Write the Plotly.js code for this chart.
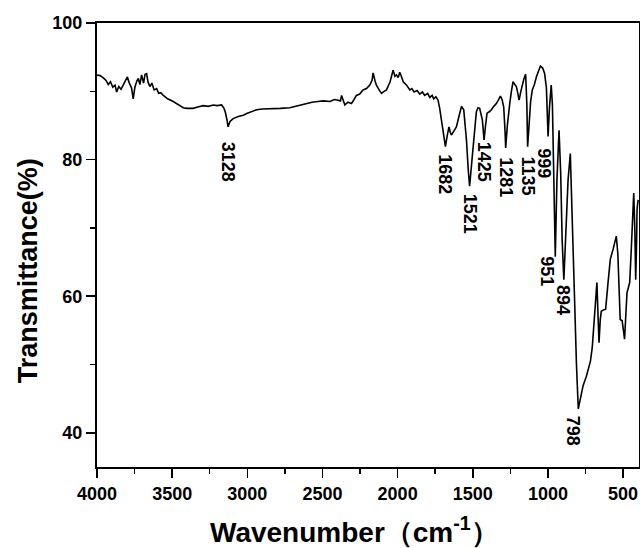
<!DOCTYPE html>
<html>
<head>
<meta charset="utf-8">
<script src="https://cdn.plot.ly/plotly-3.0.1.min.js"></script>
<style>html,body{margin:0;padding:0;background:#fff;}#chart{width:640px;height:548px;}</style>
</head>
<body>
<div id="chart"></div>
<script>
const wavenumber = [4000,3980,3960,3940,3925,3910,3895,3880,3869,3855,3840,3825,3810,3798,3785,3770,3759,3748,3735,3725,3715,3703,3690,3680,3670,3660,3648,3635,3620,3603,3590,3575,3559,3530,3493,3460,3426,3400,3360,3330,3293,3260,3227,3200,3171,3155,3147,3135,3128,3115,3094,3060,3027,3000,2970,2938,2900,2860,2828,2780,2717,2680,2640,2606,2570,2530,2495,2450,2420,2396,2380,2373,2362,2351,2330,2307,2290,2274,2252,2230,2207,2185,2170,2163,2150,2141,2120,2107,2090,2074,2050,2030,2018,2008,1996,1986,1975,1963,1940,1919,1905,1890,1870,1853,1835,1820,1800,1786,1770,1760,1745,1731,1720,1710,1698,1690,1682,1670,1658,1650,1642,1625,1609,1590,1575,1560,1550,1542,1530,1521,1510,1498,1485,1476,1465,1454,1436,1425,1415,1405,1390,1376,1360,1343,1330,1316,1305,1294,1285,1281,1270,1262,1254,1243,1232,1220,1210,1200,1192,1180,1170,1160,1148,1140,1135,1126,1115,1104,1090,1077,1065,1050,1035,1022,1010,1003,999,990,978,970,960,951,940,926,915,905,894,880,866,851,840,822,810,798,785,766,744,717,705,696,680,674,668,660,652,645,630,616,600,585,565,550,545,535,528,519,506,498,490,474,456,445,438,429,422,416,410,407,400];
const transmittance = [92.4,92.3,92.0,91.6,91.0,91.4,90.6,90.9,89.9,90.7,90.3,90.9,91.5,92.1,91.2,90.5,88.9,90.6,91.5,91.9,91.0,92.4,91.2,92.5,92.6,91.3,90.7,91.2,90.2,90.4,89.7,89.8,89.4,88.9,88.5,88.0,87.6,87.5,87.5,87.7,87.9,87.8,88.0,87.9,88.0,87.5,87.0,85.8,84.8,85.6,86.0,86.3,86.5,86.8,87.1,87.3,87.4,87.4,87.5,87.5,87.6,87.8,88.0,88.2,88.4,88.5,88.6,88.5,88.8,88.7,88.6,89.4,88.6,88.0,88.4,88.2,88.8,89.4,89.6,90.2,90.4,90.9,91.6,92.7,91.5,90.9,90.1,89.7,90.0,90.2,91.4,93.1,92.2,92.4,92.0,92.8,92.2,91.4,90.9,90.2,90.4,89.9,90.1,89.6,89.9,89.4,89.7,89.1,89.4,88.9,89.2,88.7,87.5,86.0,84.3,83.2,81.9,83.5,84.8,84.0,83.6,84.2,84.8,86.5,87.8,87.3,85.0,82.9,78.5,76.1,78.8,81.9,85.0,87.0,87.6,87.5,85.8,82.9,85.0,86.8,87.0,87.3,87.8,88.2,88.7,89.3,88.8,87.7,84.0,81.7,85.0,87.0,88.2,90.0,91.4,91.0,90.7,89.7,88.7,90.0,91.2,91.8,92.5,88.0,81.9,85.5,88.5,90.2,91.0,92.1,92.8,93.7,93.4,92.6,90.5,87.0,83.4,87.5,90.9,88.0,78.0,65.8,77.0,84.3,78.0,68.0,62.4,70.0,77.0,80.9,72.0,57.1,50.0,43.5,45.0,46.9,48.3,50.5,52.5,54.9,60.0,62.0,58.0,53.2,56.5,57.8,58.0,58.1,62.0,65.4,67.0,68.8,68.8,66.3,61.0,56.6,56.4,55.0,53.7,60.5,62.0,67.0,71.7,75.1,70.0,62.4,68.0,72.7,74.1];
const peakLabels = [3128,1682,1521,1425,1281,1135,999,951,894,798];
const labelShift = [[0,-13],[0,-6],[0,-5],[0,0],[0,-7],[0,-8],[-4,-10],[-8,2],[-1,-3],[-5,-5]];

const annotations = peakLabels.map((p, i) => {
  const idx = wavenumber.indexOf(p);
  return {
    x: p, y: transmittance[idx], xref: 'x', yref: 'y',
    text: String(p), showarrow: false, textangle: 90,
    xanchor: 'center', yanchor: 'top',
    xshift: labelShift[i][0], yshift: labelShift[i][1],
    font: {family: 'Liberation Sans, Arial, sans-serif', size: 18, color: '#000', weight: 'bold'}
  };
});
annotations.push({
  xref: 'paper', yref: 'paper', x: 0.476, y: -0.141, xanchor: 'center', yanchor: 'middle',
  showarrow: false, text: 'Wavenumber（cm<sup>-1</sup>）',
  font: {family: 'Liberation Sans, Arial, sans-serif', size: 28, color: '#000', weight: 'bold'}
});
annotations.push({
  xref: 'paper', yref: 'paper', x: -0.127, y: 0.441, xanchor: 'center', yanchor: 'middle',
  showarrow: false, textangle: -90, text: 'Transmittance(%)',
  font: {family: 'Liberation Sans, Arial, sans-serif', size: 27, color: '#000', weight: 'bold'}
});

const trace = {
  x: wavenumber, y: transmittance, type: 'scatter', mode: 'lines',
  line: {color: '#000', width: 1.6}, hoverinfo: 'skip'
};

const axisCommon = {
  showgrid: false, zeroline: false, showline: true, linecolor: '#000', linewidth: 2,
  mirror: true, ticks: 'outside', ticklen: 9, tickwidth: 1.5, tickcolor: '#000',
  tickfont: {family: 'Liberation Sans, Arial, sans-serif', size: 18, color: '#000', weight: 'bold'}
};

const layout = {
  width: 640, height: 548,
  margin: {l: 97, r: 1, t: 23, b: 81},
  paper_bgcolor: '#fff', plot_bgcolor: '#fff',
  showlegend: false,
  xaxis: Object.assign({}, axisCommon, {
    range: [4000, 394], tickmode: 'linear', tick0: 500, dtick: 500,
    minor: {dtick: 250, ticks: 'outside', ticklen: 5, tickwidth: 1.5, tickcolor: '#000', showgrid: false}
  }),
  yaxis: Object.assign({}, axisCommon, {
    range: [35, 100], tickmode: 'linear', tick0: 40, dtick: 20,
    minor: {dtick: 10, ticks: 'outside', ticklen: 5, tickwidth: 1.5, tickcolor: '#000', showgrid: false}
  }),
  annotations: annotations
};

Plotly.newPlot('chart', [trace], layout, {staticPlot: true, displayModeBar: false});
</script>
</body>
</html>
